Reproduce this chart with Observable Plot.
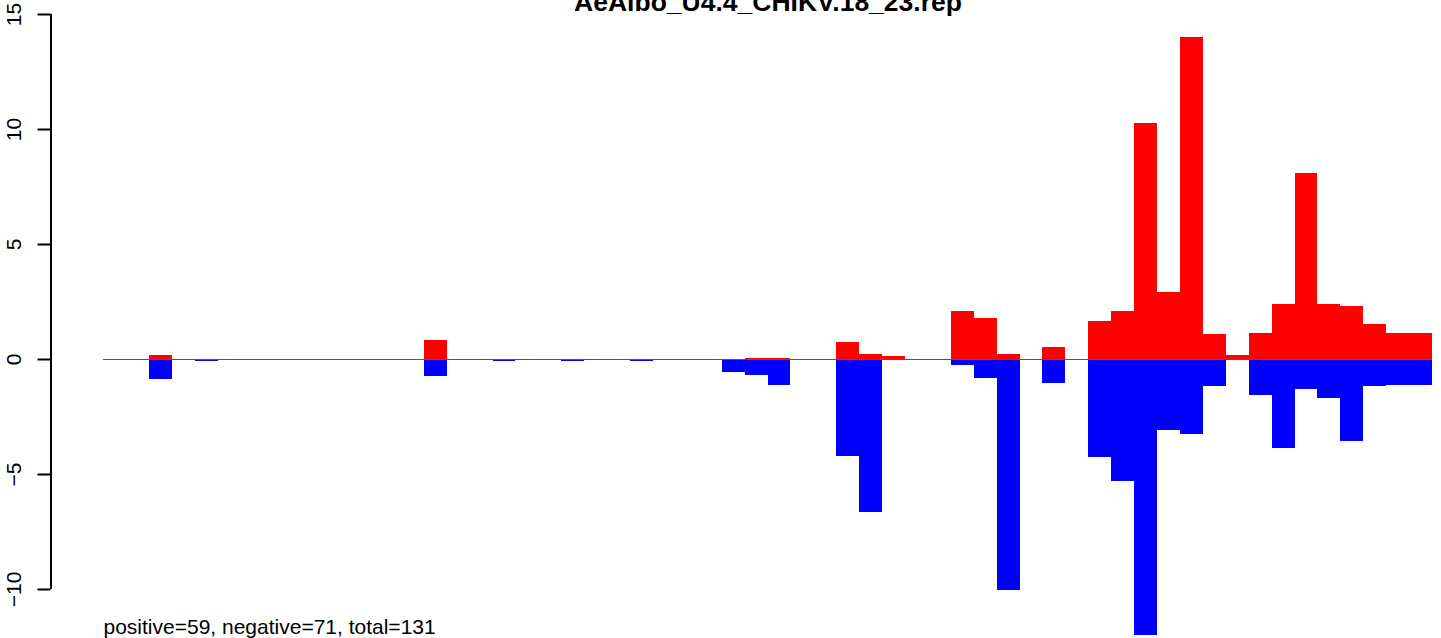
<!DOCTYPE html>
<html>
<head>
<meta charset="utf-8">
<script src="https://cdn.jsdelivr.net/npm/d3@7"></script>
<script src="https://cdn.jsdelivr.net/npm/@observablehq/plot@0.6"></script>
<style>
  html, body { margin: 0; padding: 0; background: #fff; }
  #chart svg { display: block; }
</style>
</head>
<body>
<div id="chart"></div>
<script>
const title = "AeAlbo_U4.4_CHIKV.18_23.rep";
const caption = "positive=59, negative=71, total=131";
const yTicks = [-10, -5, 0, 5, 10, 15];

// bin index (0..57)
const bins = d3.range(58);

// positive (red) values per bin
const positive = [
  0, 0, 0.17, 0, 0, 0, 0, 0, 0, 0,
  0, 0, 0, 0, 0.83, 0, 0, 0, 0, 0,
  0, 0, 0, 0, 0, 0, 0, 0, 0.04, 0.04,
  0, 0, 0.74, 0.22, 0.13, 0, 0, 2.09, 1.79, 0.22,
  0, 0.52, 0, 1.66, 2.09, 10.27, 2.92, 14.02, 1.09, 0.17,
  1.13, 2.40, 8.10, 2.40, 2.31, 1.53, 1.13, 1.13
];

// negative (blue) values per bin
const negative = [
  0, 0, -0.86, 0, -0.09, 0, 0, 0, 0, 0,
  0, 0, 0, 0, -0.73, 0, 0, -0.09, 0, 0,
  -0.09, 0, 0, -0.09, 0, 0, 0, -0.57, -0.68, -1.13,
  0, 0, -4.22, -6.66, 0, 0, 0, -0.25, -0.83, -10.05,
  0, -1.03, 0, -4.26, -5.31, -11.98, -3.10, -3.26, -1.16, 0,
  -1.57, -3.88, -1.31, -1.70, -3.58, -1.16, -1.12, -1.12
];

const posData = bins.map(i => ({bin: i, value: positive[i]})).filter(d => d.value !== 0);
const negData = bins.map(i => ({bin: i, value: negative[i]})).filter(d => d.value !== 0);

const FONT = "'Liberation Sans', Arial, Helvetica, sans-serif";
const AXIS_DX = -52.5;

const chart = Plot.plot({
  width: 1441,
  height: 638,
  marginLeft: 103,
  marginRight: 9,
  marginTop: 0,
  marginBottom: 0,
  style: {fontFamily: FONT, background: "#fff", color: "#000"},
  x: {domain: [0, 58], range: [103, 1432], axis: null},
  y: {domain: [-10, 15], range: [589, 14], axis: null},
  marks: [
    Plot.rectY(negData, {x1: d => d.bin, x2: d => d.bin + 1, y1: 0, y2: "value", fill: "#0000ff", shapeRendering: "crispEdges"}),
    Plot.rectY(posData, {x1: d => d.bin, x2: d => d.bin + 1, y1: 0, y2: "value", fill: "#ff0000", shapeRendering: "crispEdges"}),
    Plot.ruleY([0], {stroke: "#555", strokeWidth: 1.2}),
    // y axis line
    Plot.ruleX([0], {y1: yTicks[0], y2: yTicks[yTicks.length - 1], dx: AXIS_DX, stroke: "#000", strokeWidth: 2}),
    // tick marks
    Plot.ruleY(yTicks, {x1: 0, x2: 0, insetRight: 13, dx: AXIS_DX, stroke: "#000", strokeWidth: 2}),
    // tick labels (rotated, R style)
    Plot.text(yTicks, {
      y: d => d,
      text: d => d < 0 ? "\u2212" + Math.abs(d) : String(d),
      frameAnchor: "left",
      dx: -83,
      rotate: -90,
      textAnchor: "middle",
      lineAnchor: "bottom",
      fontSize: 21,
      fill: "#000"
    }),
    // title (partially above the top edge, as in the reference)
    Plot.text([title], {
      frameAnchor: "top",
      dy: 10,
      lineAnchor: "bottom",
      textAnchor: "middle",
      fontSize: 26.5,
      fontWeight: "bold",
      fill: "#000"
    }),
    // caption at bottom-left
    Plot.text([caption], {
      frameAnchor: "bottom-left",
      dy: -5,
      lineAnchor: "bottom",
      textAnchor: "start",
      fontSize: 21,
      fill: "#000"
    })
  ]
});

document.getElementById("chart").append(chart);
</script>
</body>
</html>
